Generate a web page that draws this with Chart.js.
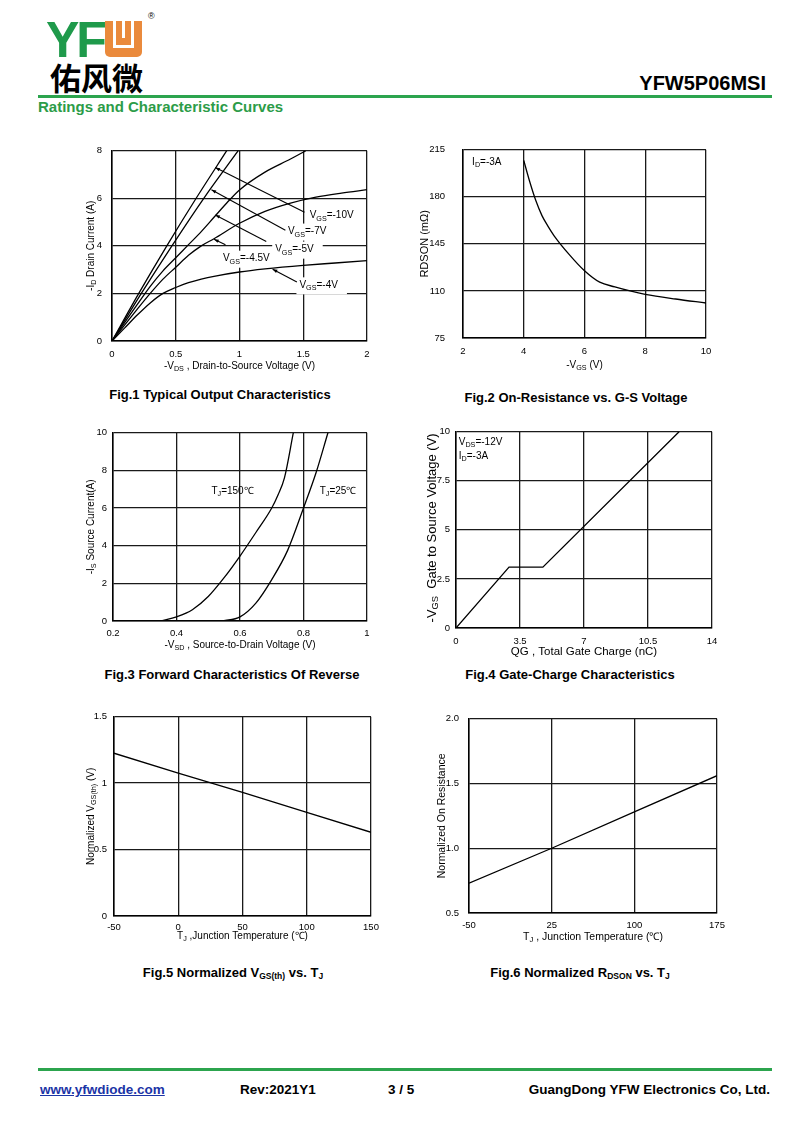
<!DOCTYPE html>
<html>
<head>
<meta charset="utf-8">
<script src="https://cdn.jsdelivr.net/npm/chart.js@4.4.0/dist/chart.umd.min.js"></script>
<style>
body{margin:0;width:800px;height:1130px;background:#fff;position:relative;overflow:hidden;font-family:"Liberation Sans",Arial,sans-serif;color:#000}
.abs{position:absolute;white-space:nowrap}
.cap{position:absolute;width:340px;text-align:center;font:bold 13px "Liberation Sans",Arial,sans-serif;line-height:15px}
.cap sub{font-size:8.5px;vertical-align:-2px}
.foot{position:absolute;top:1082px;font:bold 13.5px "Liberation Sans Narrow","Liberation Sans",Arial,sans-serif;line-height:16px}
canvas{position:absolute}
</style>
</head>
<body>
<!-- header -->
<div class="abs" style="left:46px;top:15px;font:bold 50px 'Liberation Sans',Arial,sans-serif;line-height:50px;color:#1f9a4b;letter-spacing:-3px">YF</div>
<div class="abs" style="left:105px;top:21px;width:37px;height:36px;background:#ea8a3c;border-radius:0 0 5px 5px">
  <div class="abs" style="left:8px;top:0;width:15px;height:24px;border:3px solid #fff;border-top:none"></div>
  <div class="abs" style="left:17px;top:0;width:3px;height:17px;background:#fff"></div>
</div>
<div class="abs" style="left:148px;top:11px;font:9px 'Liberation Sans',Arial,sans-serif">®</div>
<div class="abs" style="left:50px;top:61px;font:bold 31px 'Noto Sans CJK SC',sans-serif;line-height:31px">佑风微</div>
<div class="abs" style="right:34px;top:73px;font:bold 20px 'Liberation Sans',Arial,sans-serif;line-height:20px">YFW5P06MSI</div>
<div class="abs" style="left:38px;top:95px;width:734px;height:3px;background:#2ca44e"></div>
<div class="abs" style="left:38px;top:99px;font:bold 15px 'Liberation Sans Narrow','Liberation Sans',Arial,sans-serif;line-height:15px;color:#2c9c48">Ratings and Characteristic Curves</div>

<!-- captions -->
<div class="cap" style="left:50px;top:387px">Fig.1 Typical Output Characteristics</div>
<div class="cap" style="left:406px;top:390px">Fig.2 On-Resistance vs. G-S Voltage</div>
<div class="cap" style="left:62px;top:667px">Fig.3 Forward Characteristics Of Reverse</div>
<div class="cap" style="left:400px;top:667px">Fig.4 Gate-Charge Characteristics</div>
<div class="cap" style="left:63px;top:965px">Fig.5 Normalized V<sub>GS(th)</sub> vs. T<sub>J</sub></div>
<div class="cap" style="left:410px;top:965px">Fig.6 Normalized R<sub>DSON</sub> vs. T<sub>J</sub></div>

<!-- footer -->
<div class="abs" style="left:38px;top:1068px;width:734px;height:3px;background:#2ca44e"></div>
<div class="foot" style="left:40px;color:#1b34a6;text-decoration:underline">www.yfwdiode.com</div>
<div class="foot" style="left:240px">Rev:2021Y1</div>
<div class="foot" style="left:388px">3 / 5</div>
<div class="foot" style="right:30px">GuangDong YFW Electronics Co, Ltd.</div>

<script>
// Fig.1 typical output characteristics (-VDS in V, -ID in A)
const fig1Vds10 = [0, 0.21, 0.43, 0.66, 0.9];
const fig1Id10 = [0, 2, 4, 6, 8];
const fig1Vds7 = [0, 0.23, 0.47, 0.72, 0.99];
const fig1Id7 = [0, 2, 4, 6, 8];
const fig1Vds5 = [0, 0.1, 0.2, 0.3, 0.4, 0.5, 0.6, 0.7, 0.8, 0.9, 1.0, 1.2, 1.4, 1.52];
const fig1Id5 = [0, 0.78, 1.55, 2.3, 2.95, 3.5, 4.05, 4.6, 5.2, 5.8, 6.35, 7.1, 7.65, 8.0];
const fig1Vds45 = [0, 0.1, 0.2, 0.3, 0.4, 0.5, 0.6, 0.7, 0.8, 1.0, 1.2, 1.4, 1.6, 1.8, 2.0];
const fig1Id45 = [0, 0.68, 1.35, 2.0, 2.6, 3.1, 3.6, 4.0, 4.3, 4.95, 5.45, 5.8, 6.05, 6.22, 6.36];
const fig1Vds4 = [0, 0.1, 0.2, 0.3, 0.4, 0.5, 0.6, 0.7, 0.8, 1.0, 1.2, 1.5, 1.75, 2.0];
const fig1Id4 = [0, 0.55, 1.1, 1.6, 2.0, 2.25, 2.45, 2.6, 2.72, 2.9, 3.03, 3.18, 3.28, 3.38];

// Fig.2 RDSON (mOhm) vs -VGS
const fig2Vgs = [4, 4.2, 4.4, 4.6, 4.8, 5, 5.5, 6, 6.5, 7, 7.5, 8, 9, 10];
const fig2Rds = [207, 191, 177, 166, 158, 151, 137, 125, 116.5, 113, 110, 107.5, 104, 101];

// Fig.3 body diode forward (-VSD in V, -IS in A)
const fig3Vsd150 = [0.352, 0.4, 0.45, 0.5, 0.55, 0.6, 0.65, 0.7, 0.72, 0.74, 0.768];
const fig3Is150 = [0, 0.22, 0.6, 1.3, 2.3, 3.45, 4.7, 6.0, 6.7, 7.6, 10];
const fig3Vsd25 = [0.546, 0.6, 0.65, 0.7, 0.75, 0.8, 0.84, 0.877];
const fig3Is25 = [0, 0.22, 0.95, 2.2, 3.75, 6.0, 7.9, 10];

// Fig.4 gate charge
const fig4Qg = [0, 2.9, 4.75, 12.2];
const fig4Vgs = [0, 3.1, 3.1, 10];

// Fig.5 normalized VGS(th)
const fig5Tj = [-50, 0, 50, 100, 150];
const fig5Vth = [1.225, 1.075, 0.93, 0.78, 0.63];

// Fig.6 normalized RDSON
const fig6Tj = [-50, 25, 100, 175];
const fig6Rds = [0.73, 1.0, 1.28, 1.56];

const FONT = "'Liberation Sans', Arial, sans-serif";
Chart.defaults.font.family = FONT;
Chart.defaults.color = "#000";

const pts = (xs, ys) => xs.map((x, i) => ({ x: x, y: ys[i] }));

// parts: strings, a leading "_" marks a subscript
const rich = (ctx, parts, x, y, size, align, bold) => {
    let w = 0;
    const segs = parts.map((p) => {
        const sub = p[0] === "_";
        const t = sub ? p.slice(1) : p;
        const f = (bold ? "bold " : "") + (sub ? size * 0.72 : size) + "px " + FONT;
        ctx.font = f;
        const sw = ctx.measureText(t).width;
        w += sw;
        return { t, f, sub, sw };
    });
    let cx = align === "center" ? x - w / 2 : align === "right" ? x - w : x;
    ctx.textAlign = "left";
    ctx.textBaseline = "middle";
    ctx.fillStyle = "#000";
    segs.forEach((s) => {
        ctx.font = s.f;
        ctx.fillText(s.t, cx, y + (s.sub ? size * 0.3 : 0));
        cx += s.sw;
    });
    return w;
};

const notes = {
    id: "notes",
    beforeDatasetsDraw(chart) {
        const o = chart.options.plugins.notes;
        if (!o) return;
        const ctx = chart.ctx;
        const xs = chart.scales.x, ys = chart.scales.y;
        ctx.save();
        (o.labels || []).forEach((lb) => {
            const px = xs.getPixelForValue(lb.x), py = ys.getPixelForValue(lb.y);
            const size = lb.size || 10;
            if (lb.bg) {
                ctx.font = size + "px " + FONT;
                const w = lb.parts.reduce((s, p) => s + ctx.measureText(p.replace("_", "")).width, 0);
                ctx.fillStyle = "#fff";
                ctx.fillRect(px - 3, py - 8, w + 8, 17);
            }
            rich(ctx, lb.parts, px, py, size, "left", lb.bold);
        });
        ctx.strokeStyle = "#000";
        ctx.lineWidth = 1.1;
        (o.leaders || []).forEach((l) => {
            const x1 = xs.getPixelForValue(l[0]), y1 = ys.getPixelForValue(l[1]);
            const x2 = xs.getPixelForValue(l[2]), y2 = ys.getPixelForValue(l[3]);
            ctx.beginPath();
            ctx.moveTo(x1, y1);
            ctx.lineTo(x2, y2);
            ctx.stroke();
            const ang = Math.atan2(y1 - y2, x1 - x2);
            ctx.beginPath();
            ctx.moveTo(x1, y1);
            ctx.lineTo(x1 - 5 * Math.cos(ang - 0.35), y1 - 5 * Math.sin(ang - 0.35));
            ctx.lineTo(x1 - 5 * Math.cos(ang + 0.35), y1 - 5 * Math.sin(ang + 0.35));
            ctx.closePath();
            ctx.fillStyle = "#000";
            ctx.fill();
        });
        ctx.restore();
    },
    afterDraw(chart) {
        const o = chart.options.plugins.notes;
        if (!o) return;
        const ctx = chart.ctx, a = chart.chartArea;
        ctx.save();
        rich(ctx, o.xTitle, (a.left + a.right) / 2 + (o.xShift || 0), a.bottom + o.xDy, o.xSize || 10, "center", o.xBold);
        ctx.translate(a.left - o.yDx, (a.top + a.bottom) / 2 + (o.yShift || 0));
        ctx.rotate(-Math.PI / 2);
        rich(ctx, o.yTitle, 0, 0, o.ySize || 10, "center");
        ctx.restore();
    },
};

const axis = (min, max, step, pad, fmt) => ({
    type: "linear",
    min: min,
    max: max,
    ticks: {
        stepSize: step,
        padding: pad,
        autoSkip: false,
        maxRotation: 0,
        font: { size: 9.5 },
        color: "#000",
        callback: fmt || ((v) => v),
    },
    grid: { color: "#1a1a1a", lineWidth: 1.3, drawTicks: false },
    border: { color: "#000", width: 1.5 },
});

const makeChart = (box, datasets, smooth, xOpt, yOpt, noteOpt) => {
    const c = document.createElement("canvas");
    const w = box.r - box.l + 66, h = box.b - box.t + 50;
    c.width = w;
    c.height = h;
    c.style.left = box.l - 50 + "px";
    c.style.top = box.t - 10 + "px";
    c.style.width = w + "px";
    c.style.height = h + "px";
    document.body.appendChild(c);
    xOpt.afterFit = (s) => { s.height = 40; };
    yOpt.afterFit = (s) => { s.width = 50; };
    new Chart(c, {
        type: "scatter",
        data: {
            datasets: datasets.map((d) => ({
                data: d,
                showLine: true,
                borderColor: "#000",
                borderWidth: 1.3,
                pointRadius: 0,
                tension: 0,
                cubicInterpolationMode: smooth ? "monotone" : "default",
            })),
        },
        options: {
            responsive: false,
            animation: false,
            devicePixelRatio: 1,
            layout: { padding: { top: 10, right: 16, left: 0, bottom: 0 } },
            plugins: { legend: { display: false }, tooltip: { enabled: false }, notes: noteOpt },
            scales: { x: xOpt, y: yOpt },
        },
        plugins: [notes],
    });
};

makeChart(
    { l: 112, t: 145, r: 367, b: 341 },
    [pts(fig1Vds10, fig1Id10), pts(fig1Vds7, fig1Id7), pts(fig1Vds5, fig1Id5), pts(fig1Vds45, fig1Id45), pts(fig1Vds4, fig1Id4)],
    true,
    axis(0, 2, 0.5, 8),
    axis(0, 8, 2, 10),
    {
        xTitle: ["-V", "_DS", " , Drain-to-Source Voltage (V)"], xDy: 25,
        yTitle: ["-I", "_D", " Drain Current (A)"], yDx: 21,
        labels: [
            { x: 1.55, y: 5.27, parts: ["V", "_GS", "=-10V"], bg: true },
            { x: 1.38, y: 4.6, parts: ["V", "_GS", "=-7V"], bg: true },
            { x: 1.28, y: 3.84, parts: ["V", "_GS", "=-5V"], bg: true },
            { x: 0.87, y: 3.46, parts: ["V", "_GS", "=-4.5V"], bg: true },
            { x: 1.47, y: 2.34, parts: ["V", "_GS", "=-4V"], bg: true },
        ],
        leaders: [
            [0.81, 7.29, 1.51, 5.41],
            [0.78, 6.36, 1.36, 4.66],
            [0.81, 5.3, 1.21, 4.18],
            [0.8, 4.28, 0.89, 4.05],
            [1.26, 3.02, 1.45, 2.48],
        ],
    }
);

makeChart(
    { l: 463, t: 136, r: 706, b: 338 },
    [pts(fig2Vgs, fig2Rds)],
    true,
    axis(2, 10, 2, 8),
    axis(75, 215, 35, 18),
    {
        xTitle: ["-V", "_GS", " (V)"], xDy: 27,
        yTitle: ["RDSON (mΩ)"], yDx: 38, ySize: 11,
        labels: [{ x: 2.3, y: 206, parts: ["I", "_D", "=-3A"] }],
    }
);

makeChart(
    { l: 113, t: 431, r: 367, b: 621 },
    [pts(fig3Vsd150, fig3Is150), pts(fig3Vsd25, fig3Is25)],
    true,
    axis(0.2, 1, 0.2, 7, (v) => +v.toFixed(1)),
    axis(0, 10, 2, 6),
    {
        xTitle: ["-V", "_SD", " , Source-to-Drain Voltage (V)"], xDy: 24,
        yTitle: ["-I", "_S", " Source Current(A)"], yDx: 22,
        labels: [
            { x: 0.51, y: 6.88, parts: ["T", "_J", "=150℃"] },
            { x: 0.851, y: 6.88, parts: ["T", "_J", "=25℃"] },
        ],
    }
);

makeChart(
    { l: 456, t: 430, r: 712, b: 628 },
    [pts(fig4Qg, fig4Vgs)],
    false,
    axis(0, 14, 3.5, 8),
    axis(0, 10, 2.5, 6),
    {
        xTitle: ["QG , Total Gate Charge (nC)"], xDy: 24, xSize: 11.5,
        yTitle: ["-V", "_GS", "  Gate to Source Voltage (V)"], yDx: 24, ySize: 13, yShift: -2,
        labels: [
            { x: 0.15, y: 9.46, parts: ["V", "_DS", "=-12V"] },
            { x: 0.15, y: 8.74, parts: ["I", "_D", "=-3A"] },
        ],
    }
);

makeChart(
    { l: 114, t: 714, r: 371, b: 916 },
    [pts(fig5Tj, fig5Vth)],
    false,
    axis(-50, 150, 50, 6),
    axis(0, 1.5, 0.5, 7),
    {
        xTitle: ["T", "_J", " ,Junction Temperature (℃)"], xDy: 20,
        yTitle: ["Normalized V", "_GS(th)", " (V)"], yDx: 23,
    }
);

makeChart(
    { l: 469, t: 713, r: 717, b: 913 },
    [pts(fig6Tj, fig6Rds)],
    false,
    axis(-50, 175, 75, 7),
    axis(0.5, 2, 0.5, 10, (v) => v.toFixed(1)),
    {
        xTitle: ["T", "_J", " , Junction Temperature (℃)"], xDy: 24, xSize: 10.5,
        yTitle: ["Normalized On Resistance"], yDx: 27, ySize: 10.5,
    }
);
</script>
</body>
</html>
